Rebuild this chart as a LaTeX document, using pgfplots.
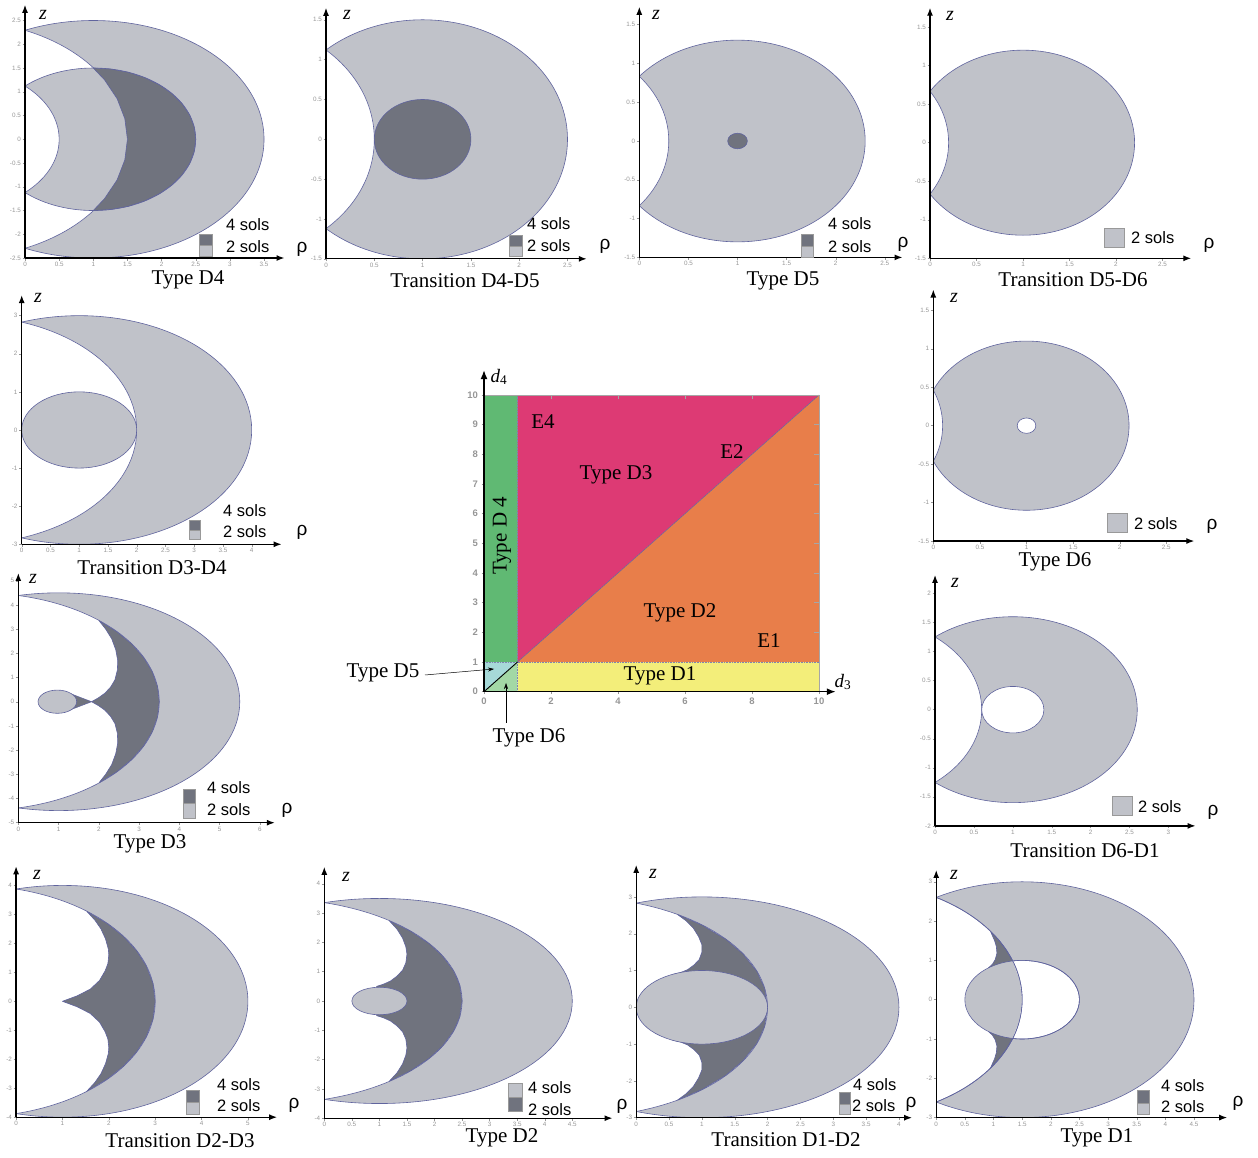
\documentclass[border=0pt]{standalone}
\usepackage{fontspec}
\setmainfont{Liberation Serif}
\setsansfont{Liberation Sans}
\usepackage{pgfplots}
\pgfplotsset{compat=1.18}
\usetikzlibrary{arrows.meta}
\definecolor{lgt}{RGB}{192,194,201}
\definecolor{dk}{RGB}{112,115,126}
\definecolor{ol}{RGB}{96,100,158}
\definecolor{tk}{RGB}{150,150,150}
\definecolor{cgreen}{RGB}{96,185,115}
\definecolor{cmag}{RGB}{221,58,116}
\definecolor{corange}{RGB}{232,126,74}
\definecolor{cyellow}{RGB}{243,238,122}
\definecolor{ccyan}{RGB}{166,217,216}
\definecolor{clgreen}{RGB}{163,216,165}
\pgfplotsset{
  panel/.style={scale only axis, anchor=south west, xmin=0,
    axis lines=left, axis on top,
    axis line style={line width=1.3pt,-{Latex[length=8pt,width=6pt]}},
    tick align=outside, major tick length=2.5pt,
    tick style={tk,line width=0.4pt},
    tick label style={font=\sffamily\fontsize{6.3}{7}\selectfont, text=tk, inner sep=1.5pt},
    /pgf/number format/assume math mode=true},
  shp/.style={smooth cycle, tension=1, draw=ol, line width=0.6pt},
  pol/.style={fill=dk, draw=ol, line width=0.6pt, line join=round},
}
\begin{document}
\begin{tikzpicture}
\useasboundingbox (0,0) rectangle (1258pt,1158pt);
% ---------- Type D4
\begin{axis}[panel, at={(25pt,899.95pt)}, width=259.5pt, height=253.2pt, xmax=3.8, ymin=-2.5, ymax=2.83,
 xtick={0,0.5,1,1.5,2,2.5,3,3.5}, ytick={-2.5,-2,-1.5,-1,-0.5,0,0.5,1,1.5,2,2.5}]
\addplot[shp, fill=lgt] coordinates {(3.5,0)(1,2.5)(-1.5,0)(1,-2.5)};
\addplot[shp, fill=white] coordinates {(1.5,0)(-1,2.5)(-3.5,0)(-1,-2.5)};
\addplot[shp, fill=lgt] coordinates {(2.5,0)(1,1.5)(-0.5,0)(1,-1.5)};
\addplot[shp, fill=white] coordinates {(0.5,0)(-1,1.5)(-2.5,0)(-1,-1.5)};
\addplot[pol] coordinates {(1,1.5)(1.26,1.477)(1.513,1.41)(1.75,1.299)(1.964,1.149)(2.149,0.964)(2.299,0.75)(2.41,0.513)(2.477,0.26)(2.5,0)(2.477,-0.26)(2.41,-0.513)(2.299,-0.75)(2.149,-0.964)(1.964,-1.149)(1.75,-1.299)(1.513,-1.41)(1.26,-1.477)(1,-1.5)(1.165,-1.25)(1.349,-0.855)(1.462,-0.434)(1.5,0)(1.462,0.434)(1.349,0.855)(1.165,1.25)} --cycle;
\end{axis}
% ---------- Transition D4-D5
\begin{axis}[panel, at={(326pt,899.15pt)}, width=260.8pt, height=251pt, xmax=2.7, ymin=-1.5, ymax=1.65,
 xtick={0,0.5,1,1.5,2,2.5}, ytick={-1.5,-1,-0.5,0,0.5,1,1.5}]
\addplot[shp, fill=lgt] coordinates {(2.5,0)(1,1.5)(-0.5,0)(1,-1.5)};
\addplot[shp, fill=white] coordinates {(0.5,0)(-1,1.5)(-2.5,0)(-1,-1.5)};
\addplot[shp, fill=dk] coordinates {(1.5,0)(1,0.5)(0.5,0)(1,-0.5)};
\end{axis}
% ---------- Type D5
\begin{axis}[panel, at={(639.3pt,900.6pt)}, width=263.2pt, height=250.6pt, xmax=2.68, ymin=-1.5, ymax=1.73,
 xtick={0,0.5,1,1.5,2,2.5}, ytick={-1.5,-1,-0.5,0,0.5,1,1.5}]
\addplot[shp, fill=lgt] coordinates {(2.3,0)(1,1.3)(-0.3,0)(1,-1.3)};
\addplot[shp, fill=white] coordinates {(0.3,0)(-1,1.3)(-2.3,0)(-1,-1.3)};
\addplot[shp, fill=dk] coordinates {(1.1,0)(1,0.1)(0.9,0)(1,-0.1)};
\end{axis}
% ---------- Transition D5-D6
\begin{axis}[panel, at={(930pt,899.65pt)}, width=261.3pt, height=250.6pt, xmax=2.81, ymin=-1.5, ymax=1.75,
 xtick={0,0.5,1,1.5,2,2.5}, ytick={-1.5,-1,-0.5,0,0.5,1,1.5}]
\addplot[shp, fill=lgt] coordinates {(2.2,0)(1,1.2)(-0.2,0)(1,-1.2)};
\addplot[shp, fill=white] coordinates {(0.2,0)(-1,1.2)(-2.2,0)(-1,-1.2)};
\end{axis}
% ---------- Transition D3-D4
\begin{axis}[panel, at={(21.7pt,613.7pt)}, width=259.9pt, height=249.2pt, xmax=4.52, ymin=-3, ymax=3.54,
 xtick={0,0.5,1,1.5,2,2.5,3,3.5,4}, ytick={-3,-2,-1,0,1,2,3}]
\addplot[shp, fill=lgt] coordinates {(4,0)(1,3)(-2,0)(1,-3)};
\addplot[shp, fill=white] coordinates {(2,0)(-1,3)(-4,0)(-1,-3)};
\addplot[shp, fill=lgt] coordinates {(2,0)(1,1)(0,0)(1,-1)};
\end{axis}
% ---------- Type D6
\begin{axis}[panel, at={(933.3pt,616.95pt)}, width=261pt, height=251.5pt, xmax=2.8, ymin=-1.5, ymax=1.77,
 xtick={0,0.5,1,1.5,2,2.5}, ytick={-1.5,-1,-0.5,0,0.5,1,1.5}]
\addplot[shp, fill=lgt] coordinates {(2.1,0)(1,1.1)(-0.1,0)(1,-1.1)};
\addplot[shp, fill=white] coordinates {(0.1,0)(-1,1.1)(-2.1,0)(-1,-1.1)};
\addplot[shp, fill=white] coordinates {(1.1,0)(1,0.1)(0.9,0)(1,-0.1)};
\end{axis}
% ---------- Type D3
\begin{axis}[panel, at={(18.3pt,335.3pt)}, width=256.5pt, height=249.7pt, xmax=6.37, ymin=-5, ymax=5.32,
 xtick={0,1,2,3,4,5,6}, ytick={-5,-4,-3,-2,-1,0,1,2,3,4,5}]
\addplot[shp, fill=lgt] coordinates {(5.5,0)(1,4.5)(-3.5,0)(1,-4.5)};
\addplot[shp, fill=white] coordinates {(3.5,0)(-1,4.5)(-5.5,0)(-1,-4.5)};
\addplot[pol] coordinates {(2.005,3.35)(2.447,2.893)(2.816,2.385)(3.111,1.830)(3.326,1.240)(3.456,0.626)(3.5,0)(3.456,-0.626)(3.326,-1.240)(3.111,-1.830)(2.816,-2.385)(2.447,-2.893)(2.005,-3.35)(2.17,-3.0)(2.32,-2.6)(2.42,-2.15)(2.47,-1.7)(2.46,-1.3)(2.4,-0.9)(2.29,-0.6)(2.15,-0.35)(1.99,-0.16)(1.82,0)(1.99,0.16)(2.15,0.35)(2.29,0.6)(2.4,0.9)(2.46,1.3)(2.47,1.7)(2.42,2.15)(2.32,2.6)(2.17,3.0)} --cycle;
\addplot[pol, line width=0.5pt] coordinates {(1.3,0.33)(1.82,0)(1.3,-0.33)} --cycle;
\addplot[shp, fill=lgt] coordinates {(1.45,0)(0.97,0.48)(0.49,0)(0.97,-0.48)};
\end{axis}
% ---------- Transition D6-D1
\begin{axis}[panel, at={(935pt,332.1pt)}, width=260.6pt, height=251pt, xmax=3.35, ymin=-2, ymax=2.32,
 xtick={0,0.5,1,1.5,2,2.5,3}, ytick={-2,-1.5,-1,-0.5,0,0.5,1,1.5,2}]
\addplot[shp, fill=lgt] coordinates {(2.6,0)(1,1.6)(-0.6,0)(1,-1.6)};
\addplot[shp, fill=white] coordinates {(0.6,0)(-1,1.6)(-2.6,0)(-1,-1.6)};
\addplot[shp, fill=white] coordinates {(1.4,0)(1,0.4)(0.6,0)(1,-0.4)};
\end{axis}
% ---------- Transition D2-D3
\begin{axis}[panel, at={(16.1pt,40.8pt)}, width=261pt, height=250.9pt, xmax=5.63, ymin=-4, ymax=4.66,
 xtick={0,1,2,3,4,5}, ytick={-4,-3,-2,-1,0,1,2,3,4}]
\addplot[shp, fill=lgt] coordinates {(5,0)(1,4)(-3,0)(1,-4)};
\addplot[shp, fill=white] coordinates {(3,0)(-1,4)(-5,0)(-1,-4)};
\addplot[pol] coordinates {(1.528,3.1)(1.972,2.677)(2.316,2.237)(2.595,1.753)(2.804,1.236)(2.951,0.626)(3,0)(2.951,-0.626)(2.804,-1.236)(2.595,-1.753)(2.316,-2.237)(1.972,-2.677)(1.528,-3.1)(1.70,-2.8)(1.83,-2.5)(1.93,-2.15)(1.99,-1.8)(2.0,-1.6)(1.98,-1.3)(1.92,-1.05)(1.8,-0.72)(1.6,-0.42)(1.32,-0.19)(1.0,0)(1.32,0.19)(1.6,0.42)(1.8,0.72)(1.92,1.05)(1.98,1.3)(2.0,1.6)(1.99,1.8)(1.93,2.15)(1.83,2.5)(1.70,2.8)} --cycle;
\end{axis}
% ---------- Type D2
\begin{axis}[panel, at={(324.3pt,39.8pt)}, width=288.2pt, height=251.4pt, xmax=5.23, ymin=-4, ymax=4.58,
 xtick={0,0.5,1,1.5,2,2.5,3,3.5,4,4.5}, ytick={-4,-3,-2,-1,0,1,2,3,4}]
\addplot[shp, fill=lgt] coordinates {(4.5,0)(1,3.5)(-2.5,0)(1,-3.5)};
\addplot[shp, fill=white] coordinates {(2.5,0)(-1,3.5)(-4.5,0)(-1,-3.5)};
\addplot[pol] coordinates {(1.179,2.739)(1.560,2.387)(1.902,1.957)(2.146,1.534)(2.347,1.023)(2.457,0.547)(2.5,0)(2.457,-0.547)(2.347,-1.023)(2.146,-1.534)(1.902,-1.957)(1.560,-2.387)(1.179,-2.739)(1.32,-2.45)(1.42,-2.15)(1.48,-1.85)(1.5,-1.6)(1.48,-1.3)(1.42,-1.05)(1.32,-0.85)(1.2,-0.68)(1.07,-0.57)(0.95,-0.5)(0.95,0.5)(1.07,0.57)(1.2,0.68)(1.32,0.85)(1.42,1.05)(1.48,1.3)(1.5,1.6)(1.48,1.85)(1.42,2.15)(1.32,2.45)} --cycle;
\addplot[shp, fill=lgt] coordinates {(1.5,0)(1,0.47)(0.5,0)(1,-0.47)};
\end{axis}
% ---------- Transition D1-D2
\begin{axis}[panel, at={(636.2pt,40.3pt)}, width=275.9pt, height=252.8pt, xmax=4.2, ymin=-3, ymax=3.87,
 xtick={0,0.5,1,1.5,2,2.5,3,3.5,4}, ytick={-3,-2,-1,0,1,2,3}]
\addplot[shp, fill=lgt] coordinates {(4,0)(1,3)(-2,0)(1,-3)};
\addplot[shp, fill=white] coordinates {(2,0)(-1,3)(-4,0)(-1,-3)};
\addplot[pol] coordinates {(0.63,2.52)(1.007,2.229)(1.364,1.847)(1.624,1.454)(1.837,0.977)(1.954,0.521)(2,0)(1.954,-0.521)(1.837,-0.977)(1.624,-1.454)(1.364,-1.847)(1.007,-2.229)(0.63,-2.52)(0.76,-2.35)(0.87,-2.15)(0.95,-1.92)(1.0,-1.7)(1.0,-1.5)(0.96,-1.3)(0.88,-1.15)(0.78,-1.02)(0.67,-0.94)(0.55,-0.89)(0.55,0.89)(0.67,0.94)(0.78,1.02)(0.88,1.15)(0.96,1.3)(1.0,1.5)(1.0,1.7)(0.95,1.92)(0.87,2.15)(0.76,2.35)} --cycle;
\addplot[shp, fill=lgt] coordinates {(2,0)(1,1)(0,0)(1,-1)};
\end{axis}
% ---------- Type D1
\begin{axis}[panel, at={(936.2pt,40.4pt)}, width=291pt, height=247.6pt, xmax=5.08, ymin=-3, ymax=3.3,
 xtick={0,0.5,1,1.5,2,2.5,3,3.5,4,4.5}, ytick={-3,-2,-1,0,1,2,3}]
\addplot[shp, fill=lgt] coordinates {(4.5,0)(1.5,3)(-1.5,0)(1.5,-3)};
\addplot[shp, fill=white] coordinates {(2.5,0)(1.5,1)(0.5,0)(1.5,-1)};
\addplot[shp, fill=white] coordinates {(1.5,0)(-1.5,3)(-4.5,0)(-1.5,-3)};
\addplot[pol] coordinates {(0.951,1.73)(1.098,1.5)(1.219,1.268)(1.333,0.987)(0.91,0.807)(0.98,0.9)(1.03,1.02)(1.06,1.18)(1.05,1.35)(1.02,1.5)(0.98,1.63)} --cycle;
\addplot[pol] coordinates {(0.951,-1.73)(1.098,-1.5)(1.219,-1.268)(1.333,-0.987)(0.91,-0.807)(0.98,-0.9)(1.03,-1.02)(1.06,-1.18)(1.05,-1.35)(1.02,-1.5)(0.98,-1.63)} --cycle;
\addplot[fill=lgt, draw=none] coordinates {(1.333,0.987)(1.158,0.94)(1.0,0.866)(0.857,0.766)(0.734,0.643)(0.634,0.5)(0.56,0.342)(0.515,0.174)(0.5,0)(0.515,-0.174)(0.56,-0.342)(0.634,-0.5)(0.734,-0.643)(0.857,-0.766)(1.0,-0.866)(1.158,-0.94)(1.333,-0.987)(1.454,-0.521)(1.5,0)(1.454,0.521)} --cycle;
\addplot[shp] coordinates {(2.5,0)(1.5,1)(0.5,0)(1.5,-1)};
\addplot[shp] coordinates {(1.5,0)(-1.5,3)(-4.5,0)(-1.5,-3)};
\end{axis}
% ---------- central map
\begin{axis}[scale only axis, anchor=south west, at={(484pt,466.3pt)}, width=351.75pt, height=321.6pt,
 xmin=0, xmax=10.5, ymin=0, ymax=10.84, axis lines=left, axis on top,
 axis line style={line width=1.5pt,-{Latex[length=9pt,width=7pt]}},
 xtick={0,2,4,6,8,10}, ytick={0,1,2,3,4,5,6,7,8,9,10},
 tick align=outside, major tick length=2.5pt, tick style={tk,line width=0.5pt},
 tick label style={font=\sffamily\bfseries\fontsize{9.5}{11}\selectfont, text=tk},
 /pgf/number format/assume math mode=true, clip=false]
\addplot[fill=cgreen, draw=none] coordinates {(0,1)(1,1)(1,10)(0,10)} --cycle;
\addplot[fill=cmag, draw=none] coordinates {(1,1)(10,10)(1,10)} --cycle;
\addplot[fill=corange, draw=none] coordinates {(1,1)(10,1)(10,10)} --cycle;
\addplot[fill=cyellow, draw=none] coordinates {(1,0)(10,0)(10,1)(1,1)} --cycle;
\addplot[fill=ccyan, draw=none] coordinates {(0,0)(1,1)(0,1)} --cycle;
\addplot[fill=clgreen, draw=none] coordinates {(0,0)(1,0)(1,1)} --cycle;
\addplot[draw=ol!80, densely dotted, line width=0.6pt] coordinates {(1,0)(1,10)};
\addplot[draw=ol!80, densely dotted, line width=0.6pt] coordinates {(0,1)(10,1)};
\addplot[draw=ol, line width=0.5pt] coordinates {(1,1)(10,10)};
\addplot[draw=black, line width=0.9pt] coordinates {(0,0)(1,1)};
\addplot[draw=gray!70, line width=0.8pt] coordinates {(0,10)(10,10)(10,0)};
\addplot[draw=gray!70, line width=0.5pt] coordinates {(9.85,9)(10,9)};
\addplot[draw=gray!70, line width=0.5pt] coordinates {(9.85,8)(10,8)};
\addplot[draw=gray!70, line width=0.5pt] coordinates {(9.85,7)(10,7)};
\addplot[draw=gray!70, line width=0.5pt] coordinates {(9.85,6)(10,6)};
\addplot[draw=gray!70, line width=0.5pt] coordinates {(9.85,5)(10,5)};
\addplot[draw=gray!70, line width=0.5pt] coordinates {(9.85,4)(10,4)};
\addplot[draw=gray!70, line width=0.5pt] coordinates {(9.85,3)(10,3)};
\addplot[draw=gray!70, line width=0.5pt] coordinates {(9.85,2)(10,2)};
\addplot[draw=gray!70, line width=0.5pt] coordinates {(2,9.85)(2,10)};
\addplot[draw=gray!70, line width=0.5pt] coordinates {(4,9.85)(4,10)};
\addplot[draw=gray!70, line width=0.5pt] coordinates {(6,9.85)(6,10)};
\addplot[draw=gray!70, line width=0.5pt] coordinates {(8,9.85)(8,10)};
\end{axis}
% ---------- texts
\begin{scope}[shift={(0pt,1158pt)}, x=1pt, y=-1pt]
\tikzset{ttl/.style={font=\fontsize{21}{24}\selectfont, inner sep=0pt},
 zl/.style={font=\fontsize{20}{22}\selectfont\itshape, inner sep=0pt},
 rl/.style={font=\sffamily\fontsize{19}{22}\selectfont, inner sep=0pt},
 lt/.style={font=\sffamily\fontsize{16.5}{19}\selectfont, anchor=west, inner sep=0pt},
 bx/.style={draw=gray!80, line width=0.5pt}}
% D4
\node[zl] at (43,15) {z}; \node[rl] at (302,249) {ρ}; \node[ttl] at (188,280) {Type D4};
\draw[bx, fill=dk] (199,234) rectangle (212,245); \draw[bx, fill=lgt] (199,245) rectangle (212,256);
\node[lt] at (226,225) {4 sols}; \node[lt] at (226,247) {2 sols};
% D4-D5
\node[zl] at (347,15) {z}; \node[rl] at (605,246) {ρ}; \node[ttl] at (465,281) {Transition D4-D5};
\draw[bx, fill=dk] (509,235) rectangle (522,246); \draw[bx, fill=lgt] (509,246) rectangle (522,256);
\node[lt] at (527,224) {4 sols}; \node[lt] at (527,246) {2 sols};
% D5
\node[zl] at (656,15) {z}; \node[rl] at (903,244) {ρ}; \node[ttl] at (783,281) {Type D5};
\draw[bx, fill=dk] (801,234) rectangle (813,246); \draw[bx, fill=lgt] (801,246) rectangle (813,257);
\node[lt] at (828,224) {4 sols}; \node[lt] at (828,247) {2 sols};
% D5-D6
\node[zl] at (950,16) {z}; \node[rl] at (1209,245) {ρ}; \node[ttl] at (1073,280) {Transition D5-D6};
\draw[bx, fill=lgt] (1104,228) rectangle (1124,247); \node[lt] at (1131,238) {2 sols};
% D3-D4
\node[zl] at (38,298) {z}; \node[rl] at (302,532) {ρ}; \node[ttl] at (152,568) {Transition D3-D4};
\draw[bx, fill=dk] (189,520) rectangle (200,530); \draw[bx, fill=lgt] (189,530) rectangle (200,539);
\node[lt] at (223,511) {4 sols}; \node[lt] at (223,532) {2 sols};
% D6
\node[zl] at (954,298) {z}; \node[rl] at (1212,526) {ρ}; \node[ttl] at (1055,562) {Type D6};
\draw[bx, fill=lgt] (1107,513) rectangle (1127,532); \node[lt] at (1134,524) {2 sols};
% D3
\node[zl] at (33,579) {z}; \node[rl] at (287,810) {ρ}; \node[ttl] at (150,844) {Type D3};
\draw[bx, fill=dk] (183,789) rectangle (195,803); \draw[bx, fill=lgt] (183,803) rectangle (195,818);
\node[lt] at (207,788) {4 sols}; \node[lt] at (207,810) {2 sols};
% D6-D1
\node[zl] at (955,583) {z}; \node[rl] at (1213,812) {ρ}; \node[ttl] at (1085,851) {Transition D6-D1};
\draw[bx, fill=lgt] (1112,796) rectangle (1132,815); \node[lt] at (1138,807) {2 sols};
% D2-D3
\node[zl] at (37,875) {z}; \node[rl] at (294,1105) {ρ}; \node[ttl] at (180,1141) {Transition D2-D3};
\draw[bx, fill=dk] (186,1090) rectangle (199,1102); \draw[bx, fill=lgt] (186,1102) rectangle (199,1114);
\node[lt] at (217,1085) {4 sols}; \node[lt] at (217,1106) {2 sols};
% D2
\node[zl] at (346,877) {z}; \node[rl] at (622,1106) {ρ}; \node[ttl] at (502,1138) {Type D2};
\draw[bx, fill=lgt] (508,1083) rectangle (522,1097); \draw[bx, fill=dk] (508,1097) rectangle (522,1111);
\node[lt] at (528,1088) {4 sols}; \node[lt] at (528,1110) {2 sols};
% D1-D2
\node[zl] at (653,874) {z}; \node[rl] at (911,1104) {ρ}; \node[ttl] at (786,1140) {Transition D1-D2};
\draw[bx, fill=dk] (839,1092) rectangle (850,1104); \draw[bx, fill=lgt] (839,1104) rectangle (850,1114);
\node[lt] at (853,1085) {4 sols}; \node[lt] at (852,1106) {2 sols};
% D1
\node[zl] at (954,875) {z}; \node[rl] at (1238,1103) {ρ}; \node[ttl] at (1097,1138) {Type D1};
\draw[bx, fill=dk] (1137,1090) rectangle (1149,1103); \draw[bx, fill=lgt] (1137,1103) rectangle (1149,1114);
\node[lt] at (1161,1086) {4 sols}; \node[lt] at (1161,1107) {2 sols};
% central map labels
\node[ttl] at (543,422) {E4};
\node[ttl] at (732,452) {E2};
\node[ttl] at (616,475) {Type D3};
\node[ttl, rotate=90] at (502,536) {Type D 4};
\node[ttl] at (680,613) {Type D2};
\node[ttl] at (769,641) {E1};
\node[ttl] at (660,676) {Type D1};
\node[ttl] at (383,673) {Type D5};
\draw[line width=0.5pt, -{Stealth[length=6pt,width=4pt]}] (425,675) -- (494,669);
\node[ttl] at (529,738) {Type D6};
\draw[line width=0.5pt, -{Stealth[length=6pt,width=4pt]}] (506,723) -- (506,683);
\node[font=\fontsize{19}{21}\selectfont\itshape, inner sep=0pt] at (499,377) {d\textsubscript{\upshape 4}};
\node[font=\fontsize{19}{21}\selectfont\itshape, inner sep=0pt] at (843,682) {d\textsubscript{\upshape 3}};
\end{scope}
\end{tikzpicture}
\end{document}
